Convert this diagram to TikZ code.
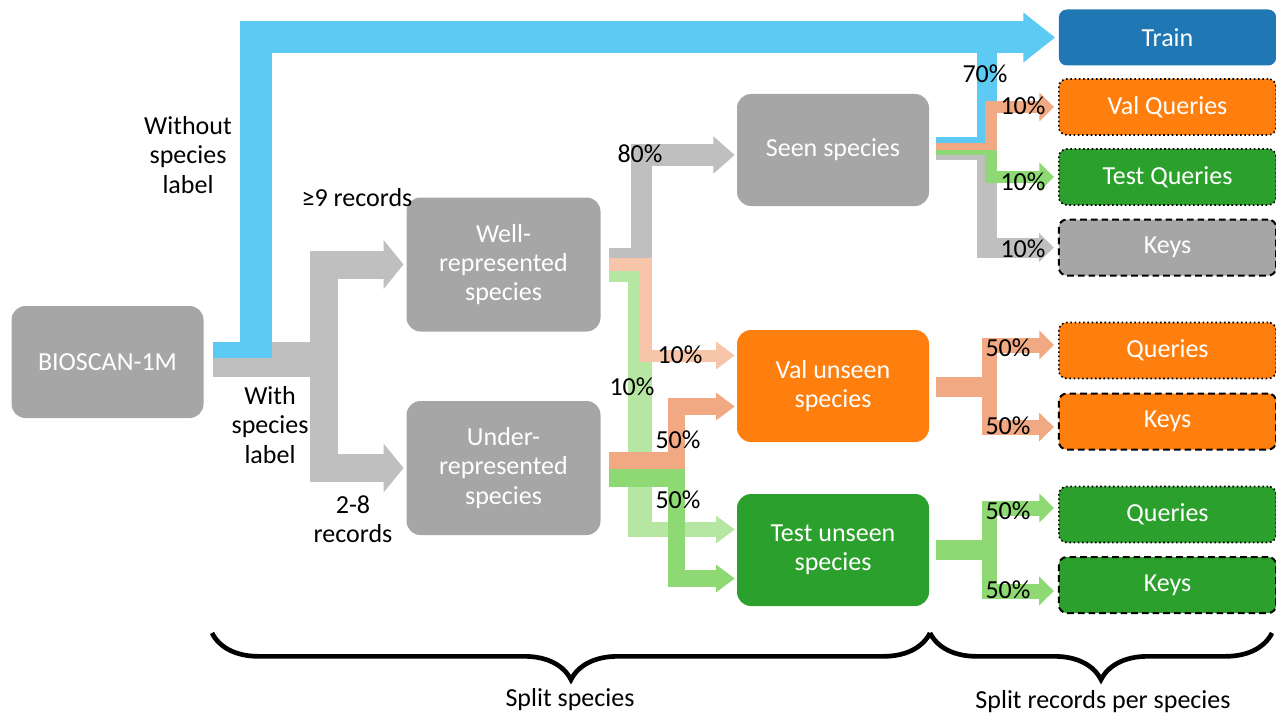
\documentclass[tikz,border=0pt]{standalone}
\usepackage{fontspec}
\setmainfont{Carlito}
\usetikzlibrary{arrows.meta,decorations.pathreplacing,calc}
\definecolor{boxgray}{HTML}{A6A6A6}
\definecolor{bandgray}{HTML}{BFBFBF}
\definecolor{bandblue}{HTML}{5DCAF4}
\definecolor{trainblue}{HTML}{1F77B4}
\definecolor{valorange}{HTML}{FF7F0E}
\definecolor{testgreen}{HTML}{2CA02C}
\definecolor{bandsalmon}{HTML}{F1A983}
\definecolor{bandsalmonlt}{HTML}{F7C6AA}
\definecolor{bandgreen}{HTML}{8ED973}
\definecolor{bandgreenlt}{HTML}{B5E6A2}
\begin{document}
\begin{tikzpicture}[x=0.75pt,y=-0.75pt,
    font=\fontsize{19.5}{22}\selectfont,
    box/.style={rectangle,rounded corners=10.5pt,fill=boxgray,text=white,align=center,minimum width=144pt,minimum height=84pt,inner sep=2pt},
    outbox/.style={rectangle,rounded corners=6pt,text=white,minimum width=163pt,minimum height=42pt},
    qbox/.style={outbox,draw=black,dotted,line width=1.2pt},
    kbox/.style={outbox,draw=black,dash pattern=on 5pt off 3pt,line width=1.5pt},
    band/.style={line width=#1,line join=miter},
    tipxl/.style={-{Triangle[width=36pt,length=24pt]},shorten >=2.5pt},
    tipl/.style={-{Triangle[width=36pt,length=15pt]},shorten >=2pt},
    tipm/.style={-{Triangle[width=20pt,length=14pt]},shorten >=1.5pt},
    tips/.style={-{Triangle[width=21pt,length=11pt]},shorten >=3pt},
    pct/.style={inner sep=0pt}]
    \useasboundingbox (0,0) rectangle (1276,713);
    % boxes
    \node[box] (bioscan) at (107.5,362) {BIOSCAN-1M};
    \node[box,minimum width=145.5pt,minimum height=100.5pt] (well) at (503.5,264.5) {Well-\\represented\\species};
    \node[box,minimum width=145.5pt,minimum height=100.5pt] (under) at (503.5,468) {Under-\\represented\\species};
    \node[box] (seen) at (833,150) {Seen species};
    \node[box,fill=valorange] (valun) at (833,386) {Val unseen\\species};
    \node[box,fill=testgreen] (testun) at (833,550) {Test unseen\\species};
    \node[outbox,fill=trainblue] (train) at (1167.5,37.5) {Train};
    \node[qbox,fill=valorange] (valq) at (1167.5,107) {Val Queries};
    \node[qbox,fill=testgreen] (testq) at (1167.5,177) {Test Queries};
    \node[kbox,fill=boxgray] (keys) at (1167.5,247.5) {Keys};
    \node[qbox,fill=valorange] (valunq) at (1167.5,350.5) {Queries};
    \node[kbox,fill=valorange] (valunk) at (1167.5,421.5) {Keys};
    \node[qbox,fill=testgreen] (testunq) at (1167.5,514.5) {Queries};
    \node[kbox,fill=testgreen] (testunk) at (1167.5,585) {Keys};

    % BIOSCAN-1M split
    \draw[band=26.25pt,bandgray] ($(bioscan.east)+(9,-2.5)$) -- (338,359.5);
    \draw[band=21pt,bandgray,tipl] (324,359.5) |- (well.west);
    \draw[band=21pt,bandgray,tipl] (324,359.5) |- (under.west);
    \draw[band=12pt,bandblue] ($(bioscan.east)+(9,-12)$) -- (271,350);
    \draw[band=24pt,bandblue,tipxl] (255.5,358) |- (train.west);

    % well-represented
    \draw[band=8.25pt,bandgreenlt] ($(well.east)+(8,12)$) -- (640,276.5);
    \draw[band=18pt,bandgreenlt] (640,271) -- (640,537);
    \draw[band=11.25pt,bandgreenlt,tipm] (640,529.5) -- (testun.west |- 0,529.5);
    \draw[band=9.75pt,bandsalmonlt] ($(well.east)+(8,0)$) -- (652,264.5);
    \draw[band=9pt,bandsalmonlt,tipm] (646,269) |- (valun.west |- 0,355.5);
    \draw[band=7.5pt,bandgray] ($(well.east)+(8,-11.5)$) -- (652,253);
    \draw[band=15.75pt,bandgray,-{Triangle[width=27pt,length=16pt]},shorten >=1.5pt] (641.5,258) |- (seen.west |- 0,155);

    % under-represented
    \draw[band=12.75pt,bandsalmon,tipm] ($(under.east)+(8,-7.5)$) -| (676.5,406.5) -- (valun.west |- 0,406.5);
    \draw[band=13pt,bandgreen,tipm] ($(under.east)+(8,10)$) -| (676.5,578.5) -- (testun.west |- 0,578.5);

    % seen species
    \draw[band=4.5pt,bandblue] ($(seen.east)+(7,-10)$) -- (997,140);
    \draw[band=15pt,bandblue] (987,143) -- (987,50);
    \draw[band=3.75pt,bandgray] ($(seen.east)+(7,7.5)$) -- (997,157.5);
    \draw[band=15pt,bandgray,tips] (987,155) |- (keys.west);
    \draw[band=3.75pt,bandgreen] ($(seen.east)+(7,2.5)$) -- (997,152.5);
    \draw[band=9pt,bandgreen,tips] (991,150) |- (testq.west);
    \draw[band=5.25pt,bandsalmon] ($(seen.east)+(7,-3.5)$) -- (997,146.5);
    \draw[band=9pt,bandsalmon,tips] (991,150) |- (valq.west);

    % unseen species
    \draw[band=15pt,bandsalmon] ($(valun.east)+(7,1)$) -- (997,387);
    \draw[band=11.25pt,bandsalmon,tips] (989.5,387) |- (valunq.west |- 0,345);
    \draw[band=11.25pt,bandsalmon,tips] (989.5,387) |- (valunk.west |- 0,427);
    \draw[band=15pt,bandgreen] ($(testun.east)+(7,0)$) -- (997,550);
    \draw[band=11.25pt,bandgreen,tips] (989.5,550) |- (testunq.west |- 0,508);
    \draw[band=11.25pt,bandgreen,tips] (989.5,550) |- (testunk.west |- 0,591);

    % labels
    \node[align=center] (nolabel) at (188,155) {Without\\species\\label};
    \node[align=center] (withlabel) at (270,425) {With\\species\\label};
    \node (many) at (357,198) {≥9 records};
    \node[align=center] (few) at (353,519) {2-8\\records};
    \node[pct] (p80) at (640,154) {80\%};
    \node[pct] (p10w) at (680,355) {10\%};
    \node[pct] (p10u) at (632,387) {10\%};
    \node[pct] (p50v) at (678,440) {50\%};
    \node[pct] (p50t) at (678,500) {50\%};
    \node[pct] (p70) at (985,74) {70\%};
    \node[pct] (p10a) at (1023,106) {10\%};
    \node[pct] (p10b) at (1023,182) {10\%};
    \node[pct] (p10c) at (1023,249) {10\%};
    \node[pct] (p50a) at (1008,348) {50\%};
    \node[pct] (p50b) at (1008,426) {50\%};
    \node[pct] (p50c) at (1008,511) {50\%};
    \node[pct] (p50d) at (1008,590) {50\%};

    % braces
    \coordinate (b0) at (212,633);
    \coordinate (b1) at (930,633);
    \coordinate (b2) at (1272,633);
    \draw[line width=3.5pt,decorate,decoration={brace,mirror,amplitude=35pt}] (b0) -- (b1);
    \draw[line width=3.5pt,decorate,decoration={brace,mirror,amplitude=35pt}] (b1) -- (b2);
    \node (splitsp) at (570,700) {Split species};
    \node (splitrec) at (1103,702) {Split records per species};
\end{tikzpicture}
\end{document}
